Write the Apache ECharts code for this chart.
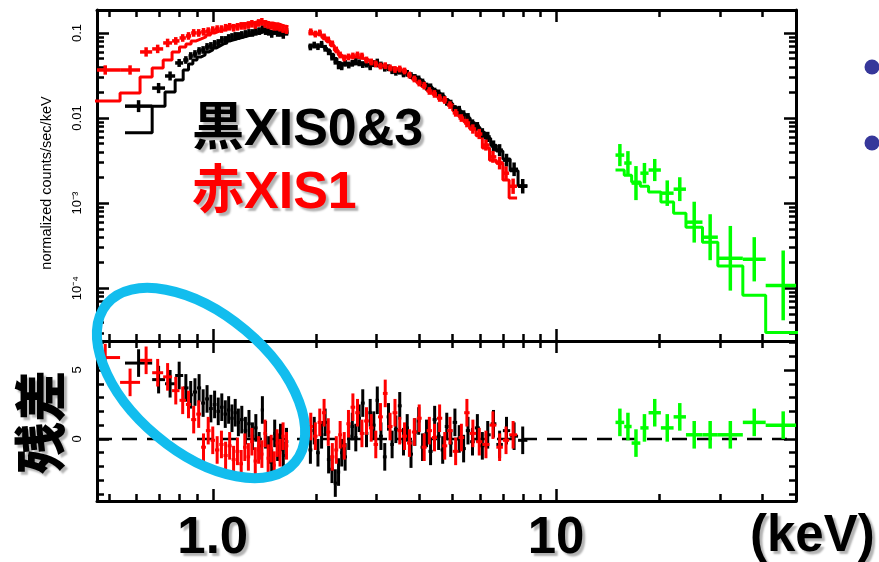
<!DOCTYPE html>
<html><head><meta charset="utf-8">
<script src="https://cdn.jsdelivr.net/npm/echarts@6/dist/echarts.min.js"></script>
<style>html,body{margin:0;padding:0;background:#fff}#c{width:879px;height:562px}</style>
</head><body><div id="c"></div>
<script>
// ---------------- data ----------------
const xRange = [0.46, 50];            // keV
const fluxRange = [2.4e-5, 0.186];    // normalized counts/sec/keV
const residRange = [-4.5, 7.1];       // sigma
const residErr = 1;

const xMajorTicks = [1, 10];
const xTickLabels = ['1.0', '10'];
const xMinorTicks = [0.5, 0.6, 0.7, 0.8, 0.9, 2, 3, 4, 5, 6, 7, 8, 9, 20, 30, 40];
const yMajorTicks = [0.1, 0.01, 0.001, 0.0001];
const yTickLabels = ['0.1', '0.01', '10⁻³', '10⁻⁴'];
const residMajorTicks = [0, 5];
const residTickLabels = ['0', '5'];
const residMinorTicks = [-4, -3, -2, -1, 1, 2, 3, 4, 6, 7];

// XIS0&3 (black): bin edges (keV), gap bin 1.66-1.9 has no data
const blackEdges = [0.555, 0.666, 0.726, 0.777, 0.82, 0.85, 0.875, 0.90, 0.925, 0.95, 0.975, 1.0, 1.025, 1.05, 1.075, 1.10, 1.125, 1.15, 1.175, 1.20, 1.23, 1.26, 1.29, 1.32, 1.35, 1.38, 1.41, 1.44, 1.47, 1.50, 1.53, 1.56, 1.59, 1.62, 1.66,
  1.9, 1.95, 2.0, 2.05, 2.1, 2.15, 2.2, 2.25, 2.3, 2.35, 2.4, 2.46, 2.52, 2.58, 2.64, 2.7, 2.77, 2.84, 2.91, 2.98, 3.05, 3.13, 3.21, 3.29, 3.37, 3.46, 3.55, 3.64, 3.73, 3.83, 3.93, 4.03, 4.14, 4.25, 4.37, 4.49, 4.61, 4.74, 4.87, 5.0, 5.15, 5.3, 5.46, 5.62, 5.8, 6.0, 6.2, 6.45, 6.7, 7.0, 7.35, 7.75, 8.25];
const blackFlux = [0.0138, 0.0225, 0.0312, 0.0444, 0.0481, 0.0536, 0.0566, 0.0614, 0.0631, 0.0685, 0.0704, 0.0743, 0.0763, 0.0828, 0.0828, 0.0873, 0.0897, 0.0922, 0.0922, 0.0947, 0.0973, 0.100, 0.100, 0.103, 0.105, 0.111, 0.105, 0.103, 0.0973, 0.105, 0.100, 0.100, 0.0947, 0.103,
  null,
  0.0685, 0.0720, 0.0690, 0.0735, 0.0660, 0.0600, 0.0520, 0.0465, 0.0410, 0.0400, 0.0440, 0.0420, 0.0440, 0.0460, 0.0445, 0.0425, 0.0430, 0.0400, 0.0435, 0.0455, 0.0420, 0.0385, 0.0390, 0.0360, 0.0345, 0.0355, 0.0330, 0.0335, 0.0315, 0.0300, 0.0285, 0.0262, 0.0235, 0.0230, 0.0205, 0.0195, 0.0180, 0.0155, 0.0148, 0.0128, 0.0124, 0.0110, 0.0102, 0.0086, 0.0080, 0.0067, 0.0060, 0.0047, 0.0042, 0.0032, 0.0025, 0.00158];
const blackErrDex = [0.07, 0.06, 0.053, 0.047, 0.045, 0.045, 0.045, 0.045, 0.045, 0.045, 0.045, 0.045, 0.045, 0.045, 0.045, 0.045, 0.045, 0.045, 0.045, 0.045, 0.045, 0.045, 0.045, 0.045, 0.045, 0.045, 0.045, 0.045, 0.045, 0.045, 0.045, 0.045, 0.045, 0.045,
  null,
  0.04, 0.04, 0.04, 0.04, 0.04, 0.04, 0.04, 0.04, 0.04, 0.04, 0.04, 0.04, 0.04, 0.04, 0.04, 0.04, 0.04, 0.04, 0.04, 0.04, 0.04, 0.04, 0.04, 0.04, 0.04, 0.04, 0.04, 0.04, 0.04, 0.04, 0.045, 0.045, 0.045, 0.045, 0.045, 0.045, 0.045, 0.045, 0.045, 0.045, 0.05, 0.05, 0.05, 0.05, 0.05, 0.055, 0.06, 0.065, 0.07, 0.075, 0.08, 0.085];
const blackModel = [0.0067, 0.0138, 0.0202, 0.028, 0.0367, 0.0432, 0.0481, 0.0522, 0.0551, 0.0598, 0.0631, 0.0667, 0.0704, 0.0743, 0.0763, 0.0806, 0.0828, 0.085, 0.0873, 0.0897, 0.0922, 0.0947, 0.0973, 0.100, 0.100, 0.103, 0.103, 0.103, 0.103, 0.103, 0.100, 0.100, 0.100, 0.100,
  null,
  0.070, 0.070, 0.070, 0.069, 0.066, 0.062, 0.056, 0.050, 0.045, 0.043, 0.043, 0.043, 0.043, 0.0435, 0.0435, 0.043, 0.0425, 0.042, 0.0415, 0.041, 0.040, 0.039, 0.038, 0.0365, 0.035, 0.034, 0.0333, 0.0325, 0.0315, 0.030, 0.0285, 0.0265, 0.0245, 0.0228, 0.021, 0.0195, 0.018, 0.0163, 0.0148, 0.0133, 0.0121, 0.0111, 0.010, 0.0088, 0.0078, 0.0068, 0.0058, 0.0048, 0.0041, 0.0033, 0.0024, 0.0016];
const blackResid = [5.5, 4.3, 4.0, 4.6, 3.7, 3.2, 3.4, 3.7, 2.6, 2.9, 2.2, 2.5, 2.0, 2.3, 1.8, 2.1, 1.5, 1.9, 1.2, 1.4, 0.6, 1.1, 0.2, 0.8, -0.5, 2.1, 0.3, -0.8, -1.7, 0.4, -0.6, 0.1, -1.2, -0.2,
  null,
  -0.8, 0.6, -1.0, 0.3, 1.2, -1.5, -2.2, -3.2, -2.4, -1.0, -1.3, 0.2, 0.9, 0.1, 1.5, 2.6, 0.4, 1.9, 1.0, 2.8, 0.2, -1.3, 1.6, -0.4, 0.7, 2.4, -0.2, 0.8, -1.1, 0.5, 1.3, -0.6, 0.4, -0.9, 1.4, 0.2, -0.8, 0.9, -0.3, 1.2, 0.0, -0.7, 0.6, -0.2, 0.8, -0.5, 0.3, 1.1, -0.4, 0.6, 0.2, -0.1];

// XIS1 (red)
const redEdges = [0.44, 0.537, 0.614, 0.666, 0.717, 0.761, 0.80, 0.835, 0.865, 0.895, 0.925, 0.955, 0.985, 1.015, 1.045, 1.075, 1.105, 1.135, 1.165, 1.195, 1.225, 1.255, 1.285, 1.315, 1.345, 1.375, 1.405, 1.435, 1.465, 1.495, 1.525, 1.555, 1.585, 1.62, 1.66,
  1.9, 1.96, 2.02, 2.08, 2.14, 2.2, 2.26, 2.32, 2.38, 2.45, 2.52, 2.6, 2.68, 2.76, 2.85, 2.94, 3.03, 3.13, 3.23, 3.34, 3.45, 3.56, 3.68, 3.8, 3.93, 4.06, 4.2, 4.35, 4.5, 4.66, 4.82, 5.0, 5.2, 5.4, 5.6, 5.85, 6.1, 6.4, 6.7, 7.0, 7.3, 7.7];
const redFlux = [0.0367, 0.0367, 0.0598, 0.0649, 0.0763, 0.0806, 0.0873, 0.0922, 0.100, 0.100, 0.103, 0.105, 0.108, 0.111, 0.111, 0.115, 0.118, 0.115, 0.118, 0.121, 0.121, 0.124, 0.128, 0.124, 0.131, 0.135, 0.128, 0.124, 0.121, 0.118, 0.118, 0.115, 0.111, 0.108,
  null,
  0.103, 0.097, 0.100, 0.0897, 0.0828, 0.0743, 0.0631, 0.0551, 0.0508, 0.0522, 0.0536, 0.0551, 0.0535, 0.0481, 0.0456, 0.0432, 0.0409, 0.0412, 0.0388, 0.0372, 0.0377, 0.0357, 0.032, 0.0288, 0.0258, 0.0240, 0.0208, 0.0192, 0.0172, 0.0163, 0.0142, 0.0115, 0.010, 0.00873, 0.00743, 0.00649, 0.00481, 0.0035, 0.00296, 0.00225, 0.00158];
const redErrDex = [0.055, 0.055, 0.055, 0.05, 0.05, 0.045, 0.045, 0.045, 0.045, 0.045, 0.045, 0.045, 0.045, 0.045, 0.045, 0.045, 0.045, 0.045, 0.045, 0.045, 0.045, 0.045, 0.045, 0.045, 0.045, 0.045, 0.045, 0.045, 0.045, 0.045, 0.045, 0.045, 0.045, 0.045,
  null,
  0.04, 0.04, 0.04, 0.04, 0.04, 0.04, 0.04, 0.04, 0.04, 0.04, 0.04, 0.04, 0.04, 0.04, 0.04, 0.04, 0.04, 0.04, 0.04, 0.04, 0.04, 0.04, 0.04, 0.04, 0.04, 0.045, 0.045, 0.045, 0.045, 0.045, 0.045, 0.045, 0.045, 0.05, 0.055, 0.06, 0.065, 0.07, 0.075, 0.08, 0.09];
const redModel = [0.0159, 0.0197, 0.0304, 0.0388, 0.0481, 0.0598, 0.0685, 0.0743, 0.0806, 0.085, 0.0897, 0.0947, 0.100, 0.105, 0.108, 0.111, 0.121, 0.121, 0.124, 0.128, 0.128, 0.131, 0.131, 0.135, 0.135, 0.135, 0.135, 0.131, 0.131, 0.128, 0.128, 0.124, 0.121, 0.118,
  null,
  0.098, 0.097, 0.094, 0.088, 0.080, 0.071, 0.062, 0.055, 0.052, 0.052, 0.052, 0.051, 0.050, 0.048, 0.046, 0.044, 0.042, 0.040, 0.039, 0.038, 0.037, 0.035, 0.032, 0.029, 0.026, 0.0235, 0.021, 0.0193, 0.0177, 0.016, 0.0143, 0.0122, 0.0104, 0.0089, 0.0075, 0.0062, 0.00444, 0.0032, 0.00296, 0.00187, 0.00115];
const redResid = [5.9, 4.1, 5.7, 4.8, 4.5, 3.5, 2.8, 2.5, 1.4, 1.8, -0.6, 0.6, -0.1, -0.8, -0.4, -1.2, -0.5, -1.5, -0.9, -1.8, -0.6, -1.3, -0.2, -1.6, -0.8, -1.1, 0.4, -1.4, -0.7, -1.9, -0.3, -1.0, 0.2, -0.5,
  null,
  0.9, 0.2, 1.2, 1.9, 0.5, -1.3, -0.8, 0.3, -0.5, 1.1, 2.3, 1.9, 0.4, 1.3, 0.8, -0.4, 1.6, 3.3, 0.9, 1.9, 0.6, 0.2, -0.3, 0.5, 1.5, -0.6, 0.6, 0.1, 1.5, -0.5, 0.6, -0.9, 0.1, 1.9, 0.4, -0.2, -0.4, 1.0, -0.6, -0.1, 0.3];

// HXD-PIN (green)
const greenEdges = [14.9, 15.8, 16.6, 17.6, 18.6, 20.2, 22.0, 23.9, 26.7, 29.6, 35.0, 40.8, 51.6];
const greenFlux = [0.00367, 0.00296, 0.00172, 0.00225, 0.00245, 0.00131, 0.00146, 0.000598, 0.000398, 0.000225, 0.000219, 0.000108];
const greenErrDex = [0.13, 0.14, 0.2, 0.12, 0.13, 0.15, 0.14, 0.24, 0.27, 0.38, 0.26, 0.41];
const greenModel = [0.00245, 0.00213, 0.00177, 0.00158, 0.00135, 0.00103, 0.000763, 0.000522, 0.000348, 0.000182, 0.0000828, 0.0000303];
const greenResid = [1.2, 0.9, -0.3, 0.8, 1.9, 0.8, 1.6, 0.3, 0.3, 0.3, 1.2, 1.0];

// ---------------- chart ----------------
const LX = Math.log10;
const BLACK = '#000000', RED = '#ff0000', GREEN = '#00ff00';
const FONT = "'Liberation Sans', Arial, sans-serif";
const CJK = "'Liberation Sans', 'Noto Sans CJK JP', sans-serif";

function crossSeries(edges, vals, errs, color, lw, gridIdx, isResid, z) {
  const data = [];
  for (let i = 0; i < vals.length; i++) {
    if (vals[i] == null) continue;
    const y = isResid ? vals[i] : LX(vals[i]);
    const e = isResid ? residErr : errs[i];
    data.push([LX(edges[i]), LX(edges[i + 1]), y, e]);
  }
  return {
    type: 'custom', xAxisIndex: gridIdx * 4, yAxisIndex: gridIdx * 4, clip: true, silent: true, z: z,
    encode: { x: [0, 1], y: 2 }, data: data,
    renderItem: function (params, api) {
      const lo = api.value(0), hi = api.value(1), y = api.value(2), e = api.value(3);
      const mid = (lo + hi) / 2;
      const a = api.coord([lo, y]), b = api.coord([hi, y]);
      const t = api.coord([mid, y + e]), d = api.coord([mid, y - e]);
      const st = { stroke: color, lineWidth: lw, fill: null };
      return { type: 'group', children: [
        { type: 'line', shape: { x1: a[0], y1: a[1], x2: b[0], y2: b[1] }, style: st },
        { type: 'line', shape: { x1: t[0], y1: t[1], x2: d[0], y2: d[1] }, style: st }
      ] };
    }
  };
}

function modelSeries(edges, model, color, z) {
  const data = [];
  for (let i = 0; i < model.length; i++) {
    if (model[i] == null) { data.push([LX(edges[i]), '-']); continue; }
    data.push([LX(edges[i]), LX(model[i])]);
    if (i === model.length - 1 || model[i + 1] == null) data.push([LX(edges[i + 1]), LX(model[i])]);
  }
  return { type: 'line', step: 'end', xAxisIndex: 0, yAxisIndex: 0, data: data, symbol: 'none', showSymbol: false,
    connectNulls: false, clip: true, silent: true, z: z, lineStyle: { color: color, width: 3 } };
}

const tickStyle = { color: '#000', width: 2.5 };
const lineOn = { show: true, onZero: false, lineStyle: { color: '#000', width: 3 } };
const lineOff = { show: false, onZero: false };

function xAxes(gridIndex, withLabels) {
  const base = { type: 'value', gridIndex: gridIndex, min: LX(xRange[0]), max: LX(xRange[1]), splitLine: { show: false } };
  const minor = { show: true, inside: true, length: 7, customValues: xMinorTicks.map(LX), lineStyle: tickStyle };
  const major = { show: true, inside: true, length: 12, customValues: xMajorTicks.map(LX), lineStyle: tickStyle };
  const labels = withLabels ? {
    show: true, customValues: xMajorTicks.map(LX), margin: 12, color: '#000',
    fontFamily: FONT, fontWeight: 'bold', fontSize: 51,
    textShadowColor: 'rgba(0,0,0,0.3)', textShadowBlur: 2, textShadowOffsetX: 3, textShadowOffsetY: 3,
    formatter: function (v) { const i = xMajorTicks.findIndex(t => Math.abs(LX(t) - v) < 1e-6); return i >= 0 ? xTickLabels[i] : ''; }
  } : { show: false };
  return [
    Object.assign({}, base, { position: 'bottom', offset: 0, axisLine: lineOn, axisTick: minor, axisLabel: { show: false } }),
    Object.assign({}, base, { position: 'top', offset: 0, axisLine: lineOn, axisTick: minor, axisLabel: { show: false } }),
    Object.assign({}, base, { position: 'bottom', offset: 0, axisLine: lineOff, axisTick: major, axisLabel: labels }),
    Object.assign({}, base, { position: 'top', offset: 0, axisLine: lineOff, axisTick: major, axisLabel: { show: false } })
  ];
}

function yAxes(gridIndex, min, max, majors, minors, labelTexts) {
  const base = { type: 'value', gridIndex: gridIndex, min: min, max: max, splitLine: { show: false } };
  const minor = { show: true, inside: true, length: 7, customValues: minors, lineStyle: tickStyle };
  const major = { show: true, inside: true, length: 12, customValues: majors, lineStyle: tickStyle };
  const labels = {
    show: true, customValues: majors, rotate: 90, margin: 13, color: '#000', fontFamily: FONT, fontSize: 13,
    formatter: function (v) { const i = majors.findIndex(t => Math.abs(t - v) < 1e-6); return i >= 0 ? labelTexts[i] : ''; }
  };
  return [
    Object.assign({}, base, { position: 'left', offset: 0, axisLine: lineOn, axisTick: minor, axisLabel: { show: false } }),
    Object.assign({}, base, { position: 'right', offset: 0, axisLine: lineOn, axisTick: minor, axisLabel: { show: false } }),
    Object.assign({}, base, { position: 'left', offset: 0, axisLine: lineOff, axisTick: major, axisLabel: labels }),
    Object.assign({}, base, { position: 'right', offset: 0, axisLine: lineOff, axisTick: major, axisLabel: { show: false } })
  ];
}

const fluxMinor = [];
for (let n = -5; n <= -1; n++) for (let k = 2; k <= 9; k++) {
  const v = LX(k) + n;
  if (v > LX(fluxRange[0]) && v < LX(fluxRange[1])) fluxMinor.push(v);
}

const shadow = { textShadowColor: 'rgba(0,0,0,0.3)', textShadowBlur: 2, textShadowOffsetX: 3, textShadowOffsetY: 3 };

const option = {
  animation: false,
  backgroundColor: '#ffffff',
  grid: [
    { left: 97, right: 83, top: 10, height: 331, outerBoundsMode: 'none', containLabel: false },
    { left: 97, right: 83, top: 341, height: 160, outerBoundsMode: 'none', containLabel: false }
  ],
  xAxis: xAxes(0, false).concat(xAxes(1, true)),
  yAxis: yAxes(0, LX(fluxRange[0]), LX(fluxRange[1]), yMajorTicks.map(LX), fluxMinor, yTickLabels)
    .concat(yAxes(1, residRange[0], residRange[1], residMajorTicks, residMinorTicks, residTickLabels)),
  series: [
    modelSeries(blackEdges, blackModel, BLACK, 2),
    modelSeries(redEdges, redModel, RED, 3),
    modelSeries(greenEdges, greenModel, GREEN, 3),
    crossSeries(blackEdges, blackFlux, blackErrDex, BLACK, 3.5, 0, false, 4),
    crossSeries(redEdges, redFlux, redErrDex, RED, 3.5, 0, false, 5),
    crossSeries(greenEdges, greenFlux, greenErrDex, GREEN, 3.5, 0, false, 5),
    { type: 'line', xAxisIndex: 4, yAxisIndex: 4, symbol: 'none', silent: true, z: 1,
      data: [[LX(xRange[0]), 0], [LX(xRange[1]), 0]],
      lineStyle: { color: '#000', width: 2.5, type: [15, 10] } },
    crossSeries(blackEdges, blackResid, null, BLACK, 3, 1, true, 4),
    crossSeries(redEdges, redResid, null, RED, 3, 1, true, 5),
    crossSeries(greenEdges, greenResid, null, GREEN, 3.5, 1, true, 5)
  ],
  graphic: [
    { type: 'text', x: 47, y: 183, rotation: Math.PI / 2, z: 10,
      style: { text: 'normalized counts/sec/keV', font: "14.5px " + FONT, fill: '#000', align: 'center', verticalAlign: 'middle' } },
    { type: 'text', x: 192, y: 131, z: 10,
      style: Object.assign({ text: '黒XIS0&3', font: "bold 52px " + CJK, fill: '#000', align: 'left', verticalAlign: 'middle' }, shadow) },
    { type: 'text', x: 192, y: 194, z: 10,
      style: Object.assign({ text: '赤XIS1', font: "bold 52px " + CJK, fill: '#ff0000', align: 'left', verticalAlign: 'middle' }, shadow) },
    { type: 'text', x: 40, y: 422, rotation: Math.PI / 2, z: 10,
      style: Object.assign({ text: '残差', font: "900 52px 'Noto Sans CJK JP', sans-serif", fill: '#000', align: 'center', verticalAlign: 'middle' }, shadow) },
    { type: 'text', x: 750, y: 537, z: 10,
      style: Object.assign({ text: '(keV)', font: "bold 51px " + FONT, fill: '#000', align: 'left', verticalAlign: 'middle' }, shadow) },
    { type: 'ellipse', x: 201, y: 383, rotation: -40 * Math.PI / 180, z: 20, silent: true,
      shape: { cx: 0, cy: 0, rx: 123, ry: 69 }, style: { fill: 'none', stroke: '#12bdee', lineWidth: 10 } },
    { type: 'circle', z: 10, shape: { cx: 872, cy: 67, r: 7.5 }, style: { fill: '#36379a' } },
    { type: 'circle', z: 10, shape: { cx: 872, cy: 143, r: 7.5 }, style: { fill: '#36379a' } }
  ]
};

const chart = echarts.init(document.getElementById('c'), null, { renderer: 'canvas' });
chart.setOption(option);
</script>
</body></html>
